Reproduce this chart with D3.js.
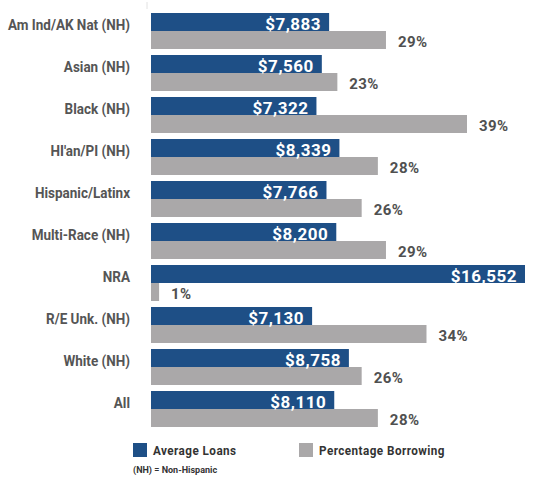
<!DOCTYPE html>
<html>
<head>
<meta charset="utf-8">
<script src="https://cdn.jsdelivr.net/npm/d3@7"></script>
<style>
  body { margin: 0; background: #fff; }
  svg { display: block; font-family: Roboto, "DejaVu Sans", sans-serif; font-weight: bold; }
</style>
</head>
<body>
<div id="chart"></div>
<script>
const categories = ["Am Ind/AK Nat (NH)", "Asian (NH)", "Black (NH)", "HI'an/PI (NH)", "Hispanic/Latinx",
  "Multi-Race (NH)", "NRA", "R/E Unk. (NH)", "White (NH)", "All"];
const avgLoans = [7883, 7560, 7322, 8339, 7766, 8200, 16552, 7130, 8758, 8110];
const pctBorrowing = [29, 23, 39, 28, 26, 29, 1, 34, 26, 28];
const seriesNames = ["Average Loans", "Percentage Borrowing"];

const width = 540, height = 477;
const left = 151;
const blue = "#1e4f86", grey = "#aaa8a9";
const cond = 0.9; // squeeze text a little, the original font is condensed

const data = categories.map((c, i) => ({ cat: c, loan: avgLoans[i], pct: pctBorrowing[i] }));

const svg = d3.select("#chart").append("svg")
    .attr("width", width)
    .attr("height", height);

const y = d3.scaleBand()
    .domain(categories)
    .range([13, 427])
    .paddingInner(0.143);

const sub = d3.scaleBand()
    .domain(["loan", "pct"])
    .range([0, y.bandwidth()]);

const xLoan = d3.scaleLinear().domain([0, 17200]).range([left, left + 374 * 17200 / 16552]);
const xPct = d3.scaleLinear().domain([0, 39]).range([left, left + 316]);

// faint axis stub at top
svg.append("line")
    .attr("x1", xLoan(0) - 4).attr("x2", xLoan(0) - 4)
    .attr("y1", 2).attr("y2", 9)
    .attr("stroke", "#e2e2e2");

const g = svg.selectAll(".grp")
    .data(data)
    .join("g")
    .attr("class", "grp")
    .attr("transform", d => "translate(0," + y(d.cat) + ")");

g.append("rect")
    .attr("x", xLoan(0))
    .attr("y", sub("loan"))
    .attr("width", d => xLoan(d.loan) - xLoan(0))
    .attr("height", sub.bandwidth())
    .attr("fill", blue);

g.append("rect")
    .attr("x", xPct(0))
    .attr("y", sub("pct"))
    .attr("width", d => xPct(d.pct) - xPct(0))
    .attr("height", sub.bandwidth())
    .attr("fill", grey);

g.append("text")
    .attr("transform", d => "translate(" + (xLoan(d.loan) - 8) + "," + (sub("loan") + sub.bandwidth() / 2 + 1.5) + ")")
    .attr("dy", "0.36em")
    .attr("text-anchor", "end")
    .attr("fill", "#fff")
    .style("font-size", "17px")
    .style("letter-spacing", "0.5px")
    .text(d => "$" + d3.format(",")(d.loan));

g.append("text")
    .attr("transform", d => "translate(" + (xPct(d.pct) + 12) + "," + (sub("pct") + sub.bandwidth() / 2 + 1.5) + ")")
    .attr("dy", "0.36em")
    .attr("fill", "#505050")
    .style("font-size", "15px")
    .style("letter-spacing", "0.4px")
    .text(d => d.pct + "%");

g.append("text")
    .attr("transform", d => "translate(" + (left - 21) + "," + (sub("loan") + sub.bandwidth() / 2 + 2.5) + ") scale(" + cond + ",1)")
    .attr("dy", "0.36em")
    .attr("text-anchor", "end")
    .attr("fill", "#555")
    .style("font-size", "15px")
    .text(d => d.cat);

// legend
const legendX = [133, 299];
const legend = svg.selectAll(".leg")
    .data(seriesNames)
    .join("g")
    .attr("class", "leg")
    .attr("transform", (d, i) => "translate(" + legendX[i] + ",443)");

legend.append("rect")
    .attr("width", 14)
    .attr("height", 14)
    .attr("fill", (d, i) => i === 0 ? blue : grey);

legend.append("text")
    .attr("transform", "translate(20,7) scale(" + cond + ",1)")
    .attr("dy", "0.36em")
    .attr("fill", "#333")
    .style("font-size", "13px")
    .style("letter-spacing", "0.5px")
    .text(d => d);

svg.append("text")
    .attr("transform", "translate(133,473) scale(0.95,1)")
    .attr("fill", "#333")
    .style("font-size", "9.5px")
    .text("(NH) = Non-Hispanic");
</script>
</body>
</html>
